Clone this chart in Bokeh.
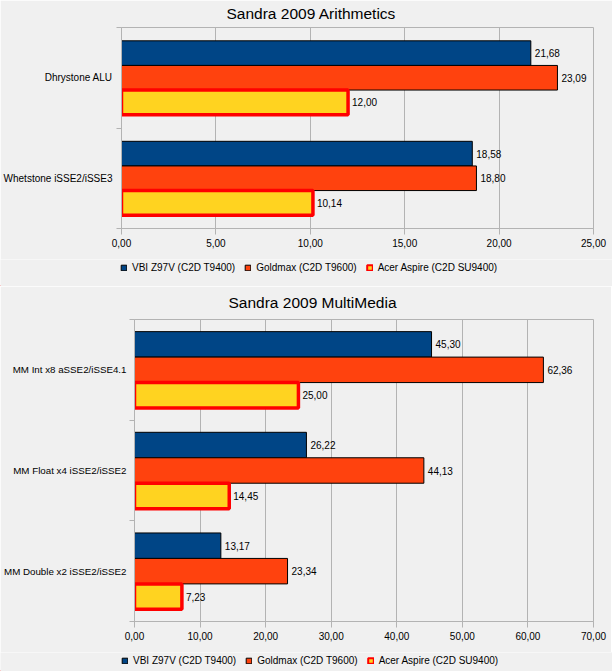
from bokeh.plotting import figure
from bokeh.models import Range1d, FixedTicker, Legend, LegendItem, ColumnDataSource
from bokeh.embed import file_html
from bokeh.resources import INLINE
from bokeh.core.properties import value

FONT = "Liberation Sans"
BG = "#f0f0f0"
GRID = "#b3b3b3"

series_names = ["VBI Z97V (C2D T9400)", "Goldmax (C2D T9600)", "Acer Aspire (C2D SU9400)"]
fill_colors = ["#004586", "#ff420e", "#ffd320"]
line_colors = ["#000000", "#000000", "#ff0000"]
line_widths = [1, 1, 3.5]
legend_line_widths = [1, 1, 2]

# Chart 1 data
arith_title = "Sandra 2009 Arithmetics"
arith_categories = ["Dhrystone ALU", "Whetstone iSSE2/iSSE3"]
arith_vbi = [21.68, 18.58]
arith_goldmax = [23.09, 18.80]
arith_acer = [12.00, 10.14]
arith_ticks = [0, 5, 10, 15, 20, 25]
arith_tick_labels = ["0,00", "5,00", "10,00", "15,00", "20,00", "25,00"]

# Chart 2 data
mm_title = "Sandra 2009 MultiMedia"
mm_categories = ["MM Int x8 aSSE2/iSSE4.1", "MM Float x4 iSSE2/iSSE2", "MM Double x2 iSSE2/iSSE2"]
mm_vbi = [45.30, 26.22, 13.17]
mm_goldmax = [62.36, 44.13, 23.34]
mm_acer = [25.00, 14.45, 7.23]
mm_ticks = [0, 10, 20, 30, 40, 50, 60, 70]
mm_tick_labels = ["0,00", "10,00", "20,00", "30,00", "40,00", "50,00", "60,00", "70,00"]


def fmt(v):
    return f"{v:.2f}".replace(".", ",")


def make_chart(title, cats, series, ticks, tick_labels, fw, fh,
               b_left, b_right, b_top, b_bottom, bar_h, title_offset, title_standoff,
               label_standoff, cat_font_size):
    n = len(cats)
    pos = [n - i for i in range(n)]
    p = figure(frame_width=fw, frame_height=fh, output_backend="svg", toolbar_location=None,
               x_range=Range1d(ticks[0], ticks[-1]), y_range=Range1d(0.5, n + 0.5),
               min_border_left=b_left, min_border_right=b_right,
               min_border_top=b_top, min_border_bottom=b_bottom,
               background_fill_color=BG, border_fill_color=BG,
               outline_line_color=GRID, outline_line_width=1)
    p.title.text = title
    p.title.align = "left"
    p.title.vertical_align = "top"
    p.title.text_font = FONT
    p.title.text_font_size = "15.5px"
    p.title.text_font_style = "normal"
    p.title.text_color = "#000000"
    p.title.offset = title_offset
    p.title.standoff = title_standoff

    offsets = [bar_h, 0.0, -bar_h]
    for k, vals in enumerate(series):
        ys = [c + offsets[k] for c in pos]
        src = ColumnDataSource(dict(y=ys, v=vals, lbl=[fmt(v) for v in vals]))
        p.hbar(y="y", left=0, right="v", height=bar_h, source=src,
               fill_color=fill_colors[k], line_color=line_colors[k],
               line_width=line_widths[k])
        p.text(x="v", y="y", text="lbl", source=src, x_offset=4,
               text_align="left", text_baseline="middle",
               text_font=value(FONT), text_font_size="10px", text_color="#000000")

    # x axis
    xa = p.xaxis[0]
    xa.ticker = FixedTicker(ticks=ticks)
    xa.major_label_overrides = {t: l for t, l in zip(ticks, tick_labels)}
    xa.axis_line_color = GRID
    xa.major_tick_line_color = GRID
    xa.major_tick_out = 6
    xa.major_tick_in = 0
    xa.minor_tick_line_color = None
    xa.major_label_standoff = 4
    xa.major_label_text_font = FONT
    xa.major_label_text_font_size = "10px"
    xa.major_label_text_color = "#000000"

    # y axis: category labels at centres, ticks at category boundaries
    ya = p.yaxis[0]
    ya.ticker = FixedTicker(ticks=pos, minor_ticks=[i + 0.5 for i in range(n + 1)])
    ya.major_label_overrides = {c: name for c, name in zip(pos, cats)}
    ya.axis_line_color = GRID
    ya.major_tick_line_color = None
    ya.major_tick_out = 0
    ya.major_tick_in = 0
    ya.minor_tick_line_color = GRID
    ya.minor_tick_out = 5
    ya.minor_tick_in = 0
    ya.major_label_standoff = label_standoff
    ya.major_label_text_font = FONT
    ya.major_label_text_font_size = cat_font_size
    ya.major_label_text_color = "#000000"

    p.xgrid.ticker = FixedTicker(ticks=ticks)
    p.xgrid.grid_line_color = GRID
    p.ygrid.grid_line_color = None
    return p


def make_legend(height, loc):
    f = figure(width=612, height=height, output_backend="svg", toolbar_location=None,
               x_range=Range1d(0, 1), y_range=Range1d(0, 1),
               x_axis_type=None, y_axis_type=None,
               min_border=0, min_border_left=0, min_border_right=0,
               min_border_top=0, min_border_bottom=0,
               background_fill_color=BG, border_fill_color=BG, outline_line_color=None)
    f.xgrid.visible = False
    f.ygrid.visible = False
    items = []
    for k in range(3):
        # legend-only renderer: a degenerate bar placed far outside the view
        r = f.hbar(y=[-5], right=[-5], left=-5, height=0,
                   fill_color=fill_colors[k], line_color=line_colors[k],
                   line_width=legend_line_widths[k])
        items.append(LegendItem(label=series_names[k], renderers=[r]))
    lg = Legend(items=items, orientation="horizontal", location=loc,
                margin=0, padding=0, spacing=9, label_standoff=5,
                glyph_width=7, glyph_height=7, label_height=10,
                label_text_font=FONT, label_text_font_size="10px",
                label_text_color="#000000",
                border_line_color=None, background_fill_alpha=0)
    f.add_layout(lg, "center")
    return f


p1 = make_chart(arith_title, arith_categories, [arith_vbi, arith_goldmax, arith_acer],
                arith_ticks, arith_tick_labels, 472, 201,
                121, 19, 27, 31, 0.245, 105, 8, 4, "10px")
l1 = make_legend(27, (120, 13))
p2 = make_chart(mm_title, mm_categories, [mm_vbi, mm_goldmax, mm_acer],
                mm_ticks, mm_tick_labels, 459, 302,
                134, 18, 33, 31, 0.253, 94, 14, 3, "9.75px")
l2 = make_legend(19, (121, 5))

html = file_html([p1, l1, p2, l2], INLINE)
html = html.replace("<body>", '<body style="margin:0;background:%s;">' % BG, 1)
open("out.html", "w").write(html)
